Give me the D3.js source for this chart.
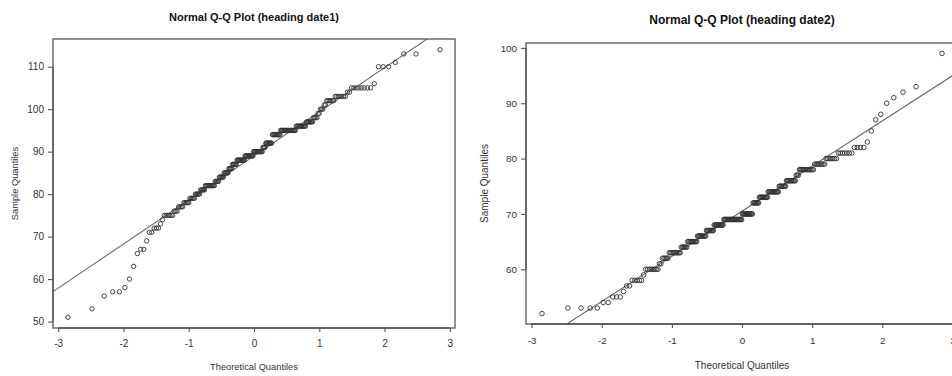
<!DOCTYPE html>
<html>
<head>
<meta charset="utf-8">
<script src="https://cdn.jsdelivr.net/npm/d3@7"></script>
<style>
  body { margin: 0; background: #fff; }
  svg { display: block; font-family: "Liberation Sans", Arial, sans-serif; }
</style>
</head>
<body>
<svg id="chart" width="952" height="376"></svg>
<script>
// heading date values (value -> how many plants)
const values1 = [51, 53, 56, 57, 58, 60, 63, 66, 67, 69, 71, 72, 73, 74, 75, 76, 77, 78, 79, 80, 81, 82, 83, 84, 85, 86, 87, 88, 89, 90, 91, 92, 94, 95, 96, 97, 98, 99, 100, 101, 102, 103, 104, 105, 106, 110, 111, 113, 114];
const counts1 = [1, 1, 1, 2, 1, 1, 1, 1, 2, 1, 2, 3, 1, 1, 6, 3, 4, 5, 5, 5, 5, 11, 5, 6, 6, 5, 6, 11, 12, 13, 4, 9, 11, 19, 11, 7, 4, 2, 3, 2, 6, 7, 2, 8, 1, 3, 1, 2, 1];

const values2 = [52, 53, 54, 55, 56, 57, 58, 59, 60, 61, 62, 63, 64, 65, 66, 67, 68, 69, 70, 72, 73, 74, 75, 76, 77, 78, 79, 80, 81, 82, 83, 85, 87, 88, 90, 91, 92, 93, 99];
const counts2 = [1, 4, 2, 3, 1, 2, 5, 1, 8, 2, 5, 10, 6, 10, 10, 9, 12, 24, 14, 8, 11, 13, 8, 10, 3, 13, 8, 7, 7, 4, 1, 1, 1, 1, 1, 1, 1, 1, 1];

const xTicks = [-3, -2, -1, 0, 1, 2, 3];
const yTicks1 = [50, 60, 70, 80, 90, 100, 110];
const yTicks2 = [60, 70, 80, 90, 100];

// inverse normal cdf (Acklam)
function qnorm(p) {
  const a = [-3.969683028665376e+01, 2.209460984245205e+02, -2.759285104469687e+02, 1.383577518672690e+02, -3.066479806614716e+01, 2.506628277459239e+00];
  const b = [-5.447609879822406e+01, 1.615858368580409e+02, -1.556989798598866e+02, 6.680131188771972e+01, -1.328068155288572e+01];
  const c = [-7.784894002430293e-03, -3.223964580411365e-01, -2.400758277161838e+00, -2.549671142200200e+00, 4.374664141464968e+00, 2.938163982698783e+00];
  const d = [7.784695709041462e-03, 3.224671290700398e-01, 2.445134137142996e+00, 3.754408661907416e+00];
  const pl = 0.02425;
  if (p < pl) {
    const q = Math.sqrt(-2 * Math.log(p));
    return (((((c[0]*q+c[1])*q+c[2])*q+c[3])*q+c[4])*q+c[5]) / ((((d[0]*q+d[1])*q+d[2])*q+d[3])*q+1);
  }
  if (p > 1 - pl) {
    const q = Math.sqrt(-2 * Math.log(1 - p));
    return -(((((c[0]*q+c[1])*q+c[2])*q+c[3])*q+c[4])*q+c[5]) / ((((d[0]*q+d[1])*q+d[2])*q+d[3])*q+1);
  }
  const q = p - 0.5, r = q * q;
  return (((((a[0]*r+a[1])*r+a[2])*r+a[3])*r+a[4])*r+a[5])*q / (((((b[0]*r+b[1])*r+b[2])*r+b[3])*r+b[4])*r+1);
}

function expand(values, counts) {
  const out = [];
  values.forEach((v, i) => { for (let k = 0; k < counts[i]; k++) out.push(v); });
  return out;
}

const svg = d3.select("#chart");

function drawPanel(opt) {
  const sample = expand(opt.values, opt.counts);
  const n = sample.length;
  const pts = sample.map((v, i) => ({ x: qnorm((i + 1 - 0.5) / n), y: v }));

  const xExt = d3.extent(pts, d => d.x);
  const yExt = d3.extent(pts, d => d.y);
  const xPad = (xExt[1] - xExt[0]) * 0.04;
  const yPad = (yExt[1] - yExt[0]) * 0.04;

  const x = d3.scaleLinear().domain([xExt[0] - xPad, xExt[1] + xPad]).range([opt.left, opt.right]);
  const y = d3.scaleLinear().domain([yExt[0] - yPad, yExt[1] + yPad]).range([opt.bottom, opt.top]);

  const g = svg.append("g");

  // clip for the reference line
  g.append("clipPath").attr("id", opt.id)
    .append("rect")
    .attr("x", opt.left).attr("y", opt.top)
    .attr("width", opt.right - opt.left).attr("height", opt.bottom - opt.top);

  // qqline through quartiles
  const q1 = d3.quantileSorted(sample, 0.25), q3 = d3.quantileSorted(sample, 0.75);
  const slope = (q3 - q1) / (qnorm(0.75) - qnorm(0.25));
  const inter = q1 - slope * qnorm(0.25);
  const xd = x.domain();
  g.append("line")
    .attr("clip-path", `url(#${opt.id})`)
    .attr("x1", x(xd[0])).attr("y1", y(inter + slope * xd[0]))
    .attr("x2", x(xd[1])).attr("y2", y(inter + slope * xd[1]))
    .attr("stroke", "#6a6a6a")
    .attr("stroke-width", 1.1);

  // points
  g.selectAll("circle.pt")
    .data(pts)
    .enter()
    .append("circle")
    .attr("class", "pt")
    .attr("cx", d => x(d.x))
    .attr("cy", d => y(d.y))
    .attr("r", opt.r)
    .attr("fill", "none")
    .attr("stroke", "#333")
    .attr("stroke-width", 0.9);

  // box
  g.append("rect")
    .attr("x", opt.left).attr("y", opt.top)
    .attr("width", opt.right - opt.left).attr("height", opt.bottom - opt.top)
    .attr("fill", "none")
    .attr("stroke", "#555")
    .attr("stroke-width", 1.3);

  // x axis
  const xAxis = g.append("g")
    .attr("transform", `translate(0,${opt.bottom})`)
    .call(d3.axisBottom(x).tickValues(xTicks).tickFormat(d3.format("d")).tickSizeOuter(0).tickSize(4).tickPadding(opt.xPad));
  // y axis
  const yAxis = g.append("g")
    .attr("transform", `translate(${opt.left},0)`)
    .call(d3.axisLeft(y).tickValues(opt.yTicks).tickSizeOuter(0).tickSize(5).tickPadding(4));

  [xAxis, yAxis].forEach(ax => {
    ax.select(".domain").attr("stroke", "#555").attr("stroke-width", 1.3);
    ax.selectAll(".tick line").attr("stroke", "#555").attr("stroke-width", 1.1);
    ax.selectAll(".tick text")
      .attr("fill", "#333")
      .style("font-size", opt.tickFont + "px")
      .style("font-family", "'Liberation Sans', Arial, sans-serif");
  });
  xAxis.selectAll(".tick text").text(d => d < 0 ? "-" + Math.abs(d) : d);
  // axis line only between first and last tick, like base R
  xAxis.select(".domain").attr("d", `M${x(xTicks[0])},0H${x(xTicks[xTicks.length - 1])}`);
  yAxis.select(".domain").attr("d", `M0,${y(d3.min(opt.yTicks))}V${y(d3.max(opt.yTicks))}`);

  // title
  g.append("text")
    .attr("x", (opt.left + opt.right) / 2)
    .attr("y", opt.titleY)
    .attr("text-anchor", "middle")
    .style("font-size", opt.titleFont + "px")
    .style("font-weight", "bold")
    .attr("fill", "#111")
    .text(opt.title);

  // axis titles
  g.append("text")
    .attr("x", (opt.left + opt.right) / 2)
    .attr("y", opt.xlabY)
    .attr("text-anchor", "middle")
    .style("font-size", opt.labFont + "px")
    .attr("fill", "#333")
    .text("Theoretical Quantiles");

  g.append("text")
    .attr("transform", `translate(${opt.ylabX},${(opt.top + opt.bottom) / 2}) rotate(-90)`)
    .attr("text-anchor", "middle")
    .style("font-size", opt.labFont + "px")
    .attr("fill", "#333")
    .text("Sample Quantiles");
}

drawPanel({
  id: "clip1", values: values1, counts: counts1, yTicks: yTicks1,
  left: 53, right: 455, top: 39, bottom: 328,
  title: "Normal Q-Q Plot (heading date1)", titleY: 21, titleFont: 11,
  xlabY: 370, ylabX: 18, labFont: 9.3, tickFont: 10, xPad: 8, r: 2.2
});

drawPanel({
  id: "clip2", values: values2, counts: counts2, yTicks: yTicks2,
  left: 526, right: 958, top: 43, bottom: 324,
  title: "Normal Q-Q Plot (heading date2)", titleY: 24, titleFont: 12,
  xlabY: 369, ylabX: 488, labFont: 10, tickFont: 9.8, xPad: 9, r: 2.3
});
</script>
</body>
</html>
